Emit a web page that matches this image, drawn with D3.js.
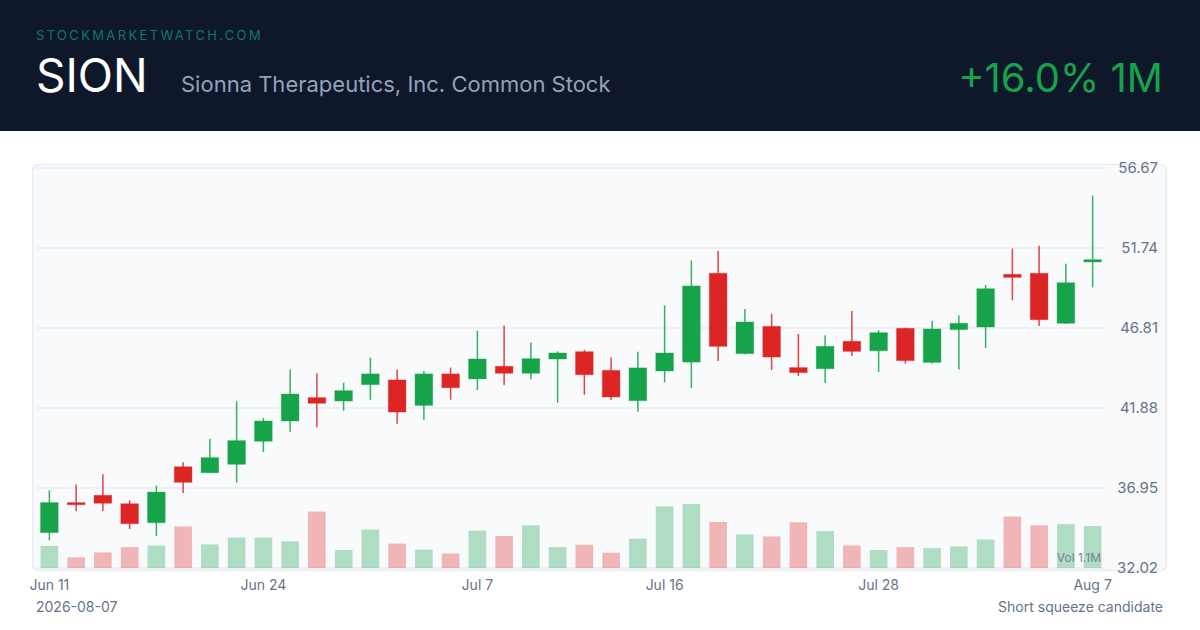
<!DOCTYPE html>
<html><head><meta charset="utf-8">
<script src="https://cdn.jsdelivr.net/npm/d3@7/dist/d3.min.js"></script>
<style>
html,body{margin:0;padding:0;background:#ffffff;}
svg{display:block;font-family:Inter,"Noto Sans",sans-serif;}
</style></head>
<body><svg id="c" width="1200" height="630"></svg>
<script>
const dates = ["2026-06-11","2026-06-12","2026-06-15","2026-06-16","2026-06-17","2026-06-18","2026-06-22","2026-06-23","2026-06-24","2026-06-25","2026-06-26","2026-06-29","2026-06-30","2026-07-01","2026-07-02","2026-07-06","2026-07-07","2026-07-08","2026-07-09","2026-07-10","2026-07-13","2026-07-14","2026-07-15","2026-07-16","2026-07-17","2026-07-20","2026-07-21","2026-07-22","2026-07-23","2026-07-24","2026-07-27","2026-07-28","2026-07-29","2026-07-30","2026-07-31","2026-08-03","2026-08-04","2026-08-05","2026-08-06","2026-08-07"];
const open  = [34.20,36.05,36.50,35.98,34.81,38.26,37.89,38.41,39.83,41.08,42.52,42.31,43.32,43.61,42.04,43.98,43.67,44.45,44.02,44.90,45.35,44.20,42.33,44.16,44.71,50.18,45.23,46.91,44.37,44.30,45.99,45.41,46.79,44.69,46.71,46.87,50.12,50.18,47.10,50.88];
const high  = [36.81,37.16,37.79,36.19,37.09,38.53,39.99,42.29,41.26,44.26,44.02,43.44,44.98,44.26,44.16,44.37,46.63,46.97,45.91,45.37,45.47,45.00,45.35,48.21,50.98,51.56,47.98,47.69,46.44,46.36,47.86,46.67,46.83,47.26,47.59,49.46,51.70,51.88,50.77,54.97];
const low   = [33.73,35.51,35.53,34.42,33.99,36.64,37.87,37.28,39.17,40.42,40.69,41.72,42.39,40.91,41.16,42.39,42.99,43.30,43.63,42.21,42.70,42.37,41.65,43.46,43.11,44.78,45.20,44.22,43.85,43.42,45.08,44.10,44.61,44.61,44.26,45.58,48.52,46.93,47.06,49.32];
const close = [36.05,35.92,36.01,34.75,36.70,37.30,38.82,39.87,41.08,42.74,42.17,42.95,43.98,41.63,43.98,43.13,44.90,44.02,44.92,45.27,43.93,42.56,44.35,45.27,49.40,45.68,47.18,45.02,44.06,45.68,45.37,46.52,44.80,46.75,47.10,49.23,49.93,47.32,49.60,51.02];
const volume = [0.58,0.28,0.41,0.55,0.59,1.09,0.62,0.80,0.80,0.70,1.48,0.47,1.01,0.64,0.48,0.38,0.98,0.84,1.12,0.55,0.61,0.40,0.77,1.62,1.68,1.21,0.88,0.83,1.20,0.97,0.59,0.47,0.55,0.52,0.57,0.75,1.35,1.12,1.15,1.10];
const yTicks = [32.02,36.95,41.88,46.81,51.74,56.67];
const xTickDates = ["2026-06-11","2026-06-24","2026-07-07","2026-07-16","2026-07-28","2026-08-07"];
const xTickLabels = ["Jun 11","Jun 24","Jul 7","Jul 16","Jul 28","Aug 7"];

const UP = "#16a34a", DOWN = "#dc2626";
const svg = d3.select("#c");

// header
svg.append("rect").attr("x",0).attr("y",0).attr("width",1200).attr("height",131).attr("fill","#0f172a");
svg.append("text").attr("x",36).attr("y",40).attr("font-size",13).attr("letter-spacing","2.35px")
  .attr("fill","#0f766e").text("STOCKMARKETWATCH.COM");
svg.append("text").attr("x",36).attr("y",92).attr("font-size",46).attr("fill","#ffffff").text("SION");
svg.append("text").attr("x",181).attr("y",92).attr("font-size",22).attr("fill","#94a3b8").text("Sionna Therapeutics, Inc. Common Stock");
svg.append("text").attr("x",1163).attr("y",92).attr("font-size",40).attr("text-anchor","end").attr("fill","#16a34a").text("+16.0% 1M");

// frame
svg.append("rect").attr("x",32.5).attr("y",164.5).attr("width",1134).attr("height",406).attr("rx",6)
  .attr("fill","#f8fafc").attr("stroke","#e8edf3").attr("stroke-width",1.5);

const x = d3.scaleBand().domain(dates).range([36,1106]).paddingInner(0.34).paddingOuter(0.17);
const y = d3.scaleLinear().domain([yTicks[0], yTicks[yTicks.length-1]]).range([568,168]);
const v = d3.scaleLinear().domain([0, d3.max(volume)]).range([568,504]);

// grid
svg.append("g").selectAll("line").data(yTicks).join("line")
  .attr("x1",36).attr("x2",1106).attr("y1",d=>y(d)).attr("y2",d=>y(d))
  .attr("stroke","#e8ebf1").attr("stroke-width",1.5);

// y labels
svg.append("g").selectAll("text").data(yTicks).join("text")
  .attr("x",1158).attr("y",d=>y(d)).attr("dy","0.35em").attr("text-anchor","end")
  .attr("font-size",15).attr("fill","#64748b").text(d=>d.toFixed(2));

const idx = d3.range(dates.length);
const col = i => close[i] >= open[i] ? UP : DOWN;

// volume
svg.append("g").selectAll("rect").data(idx).join("rect")
  .attr("x",i=>x(dates[i])).attr("width",x.bandwidth())
  .attr("y",i=>v(volume[i])).attr("height",i=>568 - v(volume[i]))
  .attr("fill",i=>col(i)).attr("opacity",0.32);

svg.append("text").attr("x",1101).attr("y",562).attr("text-anchor","end").attr("font-size",12)
  .attr("fill","#64748b").attr("opacity",0.85).text("Vol 1.1M");

// wicks
svg.append("g").selectAll("line").data(idx).join("line")
  .attr("x1",i=>x(dates[i])+x.bandwidth()/2).attr("x2",i=>x(dates[i])+x.bandwidth()/2)
  .attr("y1",i=>y(high[i])).attr("y2",i=>y(low[i]))
  .attr("stroke",i=>col(i)).attr("stroke-width",1.5).attr("opacity",0.85);

// bodies
svg.append("g").selectAll("rect").data(idx).join("rect")
  .attr("x",i=>x(dates[i])).attr("width",x.bandwidth())
  .attr("y",i=>y(Math.max(open[i],close[i])))
  .attr("height",i=>Math.max(2, Math.abs(y(open[i])-y(close[i]))))
  .attr("fill",i=>col(i)).attr("stroke",i=>col(i)).attr("stroke-opacity",0.35).attr("stroke-width",1);

// x labels
svg.append("g").selectAll("text").data(xTickDates).join("text")
  .attr("x",d=>x(d)+x.bandwidth()/2).attr("y",590).attr("text-anchor","middle")
  .attr("font-size",14).attr("fill","#64748b").text((d,i)=>xTickLabels[i]);

// footer
svg.append("text").attr("x",36).attr("y",612).attr("font-size",14).attr("fill","#64748b").text("2026-08-07");
svg.append("text").attr("x",1163).attr("y",612).attr("text-anchor","end").attr("font-size",14).attr("fill","#64748b").text("Short squeeze candidate");
</script></body></html>
